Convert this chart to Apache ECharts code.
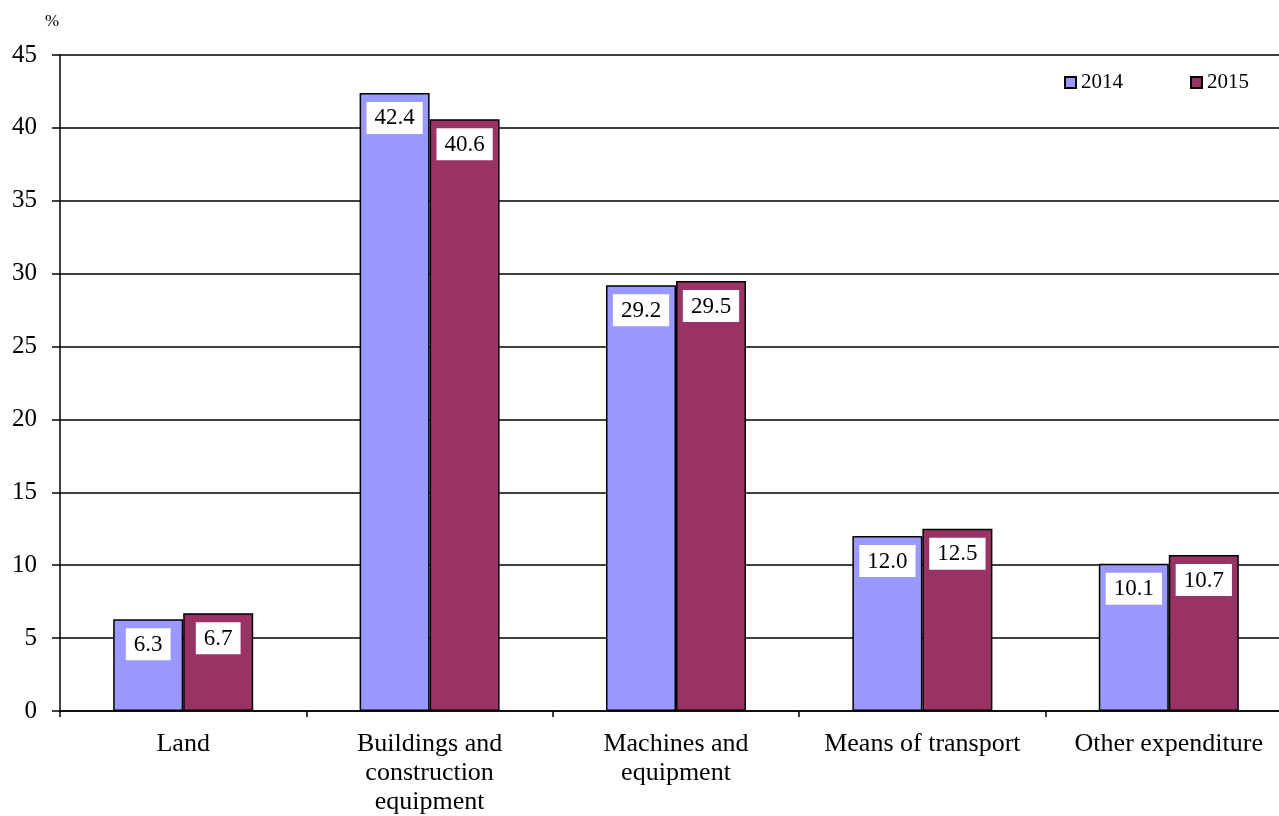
<!DOCTYPE html>
<html><head><meta charset="utf-8">
<script src="https://cdn.jsdelivr.net/npm/echarts@6/dist/echarts.min.js"></script>
<style>html,body{margin:0;padding:0;background:#fff}#c{width:1279px;height:816px}</style>
</head><body><div id="c"></div>
<script>
var categories = ['Land', 'Buildings and\nconstruction\nequipment', 'Machines and\nequipment', 'Means of transport', 'Other expenditure'];
var values2014 = [6.3, 42.4, 29.2, 12.0, 10.1];
var values2015 = [6.7, 40.6, 29.5, 12.5, 10.7];
var yTicks = {min: 0, max: 45, interval: 5};

var chart = echarts.init(document.getElementById('c'));
var font = 'Liberation Serif';
function lbl() {
  return {
    show: true, position: 'insideTop', distance: 9,
    formatter: function (p) { return p.value.toFixed(1); },
    backgroundColor: '#fff', padding: [5, 8, 4, 8],
    color: '#000', fontFamily: font, fontSize: 23
  };
}
chart.setOption({
  animation: false,
  textStyle: {fontFamily: font},
  graphic: [{type: 'text', left: 45, top: 13, style: {text: '%', fontFamily: font, fontSize: 17, fill: '#000'}}],
  legend: {
    right: 25, top: 67, itemGap: 67, itemWidth: 11, itemHeight: 11,
    icon: 'rect',
    textStyle: {fontFamily: font, fontSize: 21, color: '#000'},
    data: ['2014', '2015']
  },
  grid: {left: 60, top: 55, width: 1232, height: 656, containLabel: false, outerBoundsMode: 'none'},
  xAxis: {
    type: 'category', data: categories,
    axisLine: {lineStyle: {color: '#000', width: 1.5}},
    axisTick: {show: true, length: 6, lineStyle: {color: '#000', width: 1.5}},
    axisLabel: {color: '#000', fontFamily: font, fontSize: 26, margin: 19, lineHeight: 29, interval: 0, hideOverlap: false}
  },
  yAxis: {
    type: 'value', min: yTicks.min, max: yTicks.max, interval: yTicks.interval,
    axisLine: {show: true, lineStyle: {color: '#000', width: 1.5}},
    axisTick: {show: true, length: 8, lineStyle: {color: '#000', width: 1.5}},
    axisLabel: {color: '#000', fontFamily: font, fontSize: 25, margin: 23},
    splitLine: {lineStyle: {color: '#000', width: 1.5}}
  },
  series: [
    {name: '2014', type: 'bar', data: values2014, barWidth: 70, barGap: '0%',
     itemStyle: {color: '#9999FF', borderColor: '#000', borderWidth: 1.5}, label: lbl()},
    {name: '2015', type: 'bar', data: values2015, barWidth: 70, barGap: '0%',
     itemStyle: {color: '#993366', borderColor: '#000', borderWidth: 1.5}, label: lbl()}
  ]
});
</script></body></html>
